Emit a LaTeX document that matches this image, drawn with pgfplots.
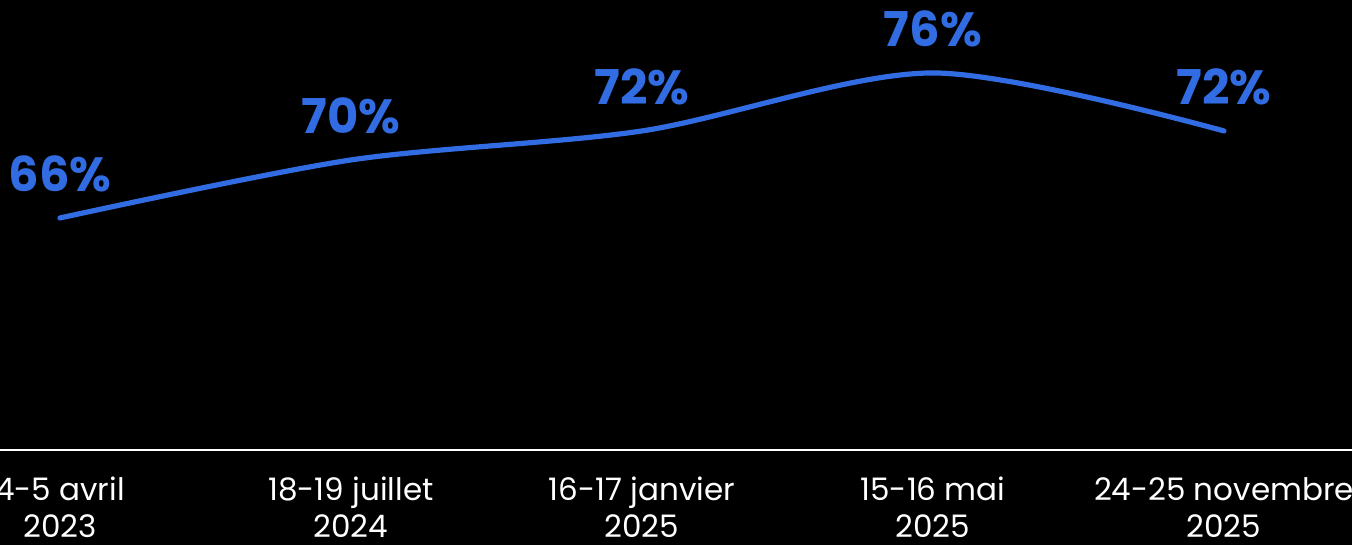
\documentclass[border=0pt]{standalone}
\usepackage{fontspec}
\setmainfont{Poppins}
\usepackage{pgfplots}
\pgfplotsset{compat=1.18}
\definecolor{lineblue}{RGB}{50,108,226}

\begin{document}
\begin{tikzpicture}
  \fill[black] (0,-47.5pt) rectangle (676pt,225pt);
  \begin{axis}[
    at={(0,0)}, anchor=south west,
    width=676pt, height=225pt, scale only axis,
    xmin=-0.206, xmax=4.44,
    ymin=50, ymax=81.03,
    axis x line=bottom,
    axis y line=none,
    axis line style={white, line width=1pt, -},
    xtick={0,1,2,3,4},
    xticklabels={{4-5 avril\\2023},{18-19 juillet\\2024},{16-17 janvier\\2025},{15-16 mai\\2025},{24-25 novembre\\2025}},
    xticklabel style={white, align=center, yshift=-10pt, font=\fontsize{15.5}{18.5}\selectfont},
    major tick length=0pt,
    clip=false,
  ]
    \addplot[lineblue, line width=2.6pt, smooth, line cap=round,
      /pgf/number format/assume math mode=true,
      nodes near coords={\pgfmathprintnumber[fixed,precision=0]{\pgfplotspointmeta}\%},
      every node near coord/.append style={anchor=center, yshift=22pt,
        text=lineblue, font=\fontsize{24}{28}\selectfont\bfseries}]
      coordinates {(0,66) (1,70) (2,72) (3,76) (4,72)};
  \end{axis}
  \pgfresetboundingbox
  \path (0,-47.5pt) rectangle (676pt,225pt);
\end{tikzpicture}
\end{document}
